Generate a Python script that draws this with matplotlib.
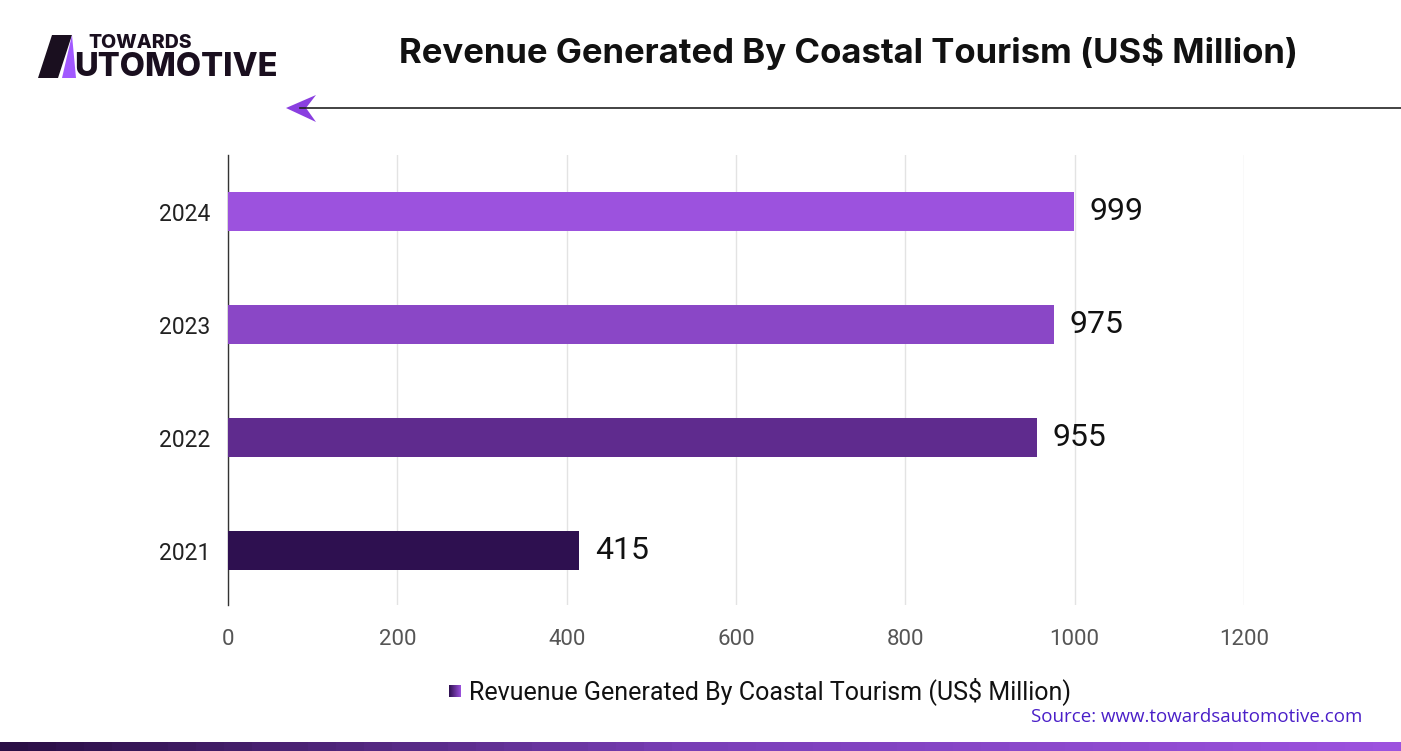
import numpy as np
import matplotlib.pyplot as plt
from matplotlib.colors import LinearSegmentedColormap
from matplotlib.patches import Polygon

years = ["2021", "2022", "2023", "2024"]
revenue = [415, 955, 975, 999]
bar_colors = ["#2e1050", "#5f2b8e", "#8a47c6", "#9c52de"]
x_ticks = [0, 200, 400, 600, 800, 1000, 1200]
title = "Revenue Generated By Coastal Tourism (US$ Million)"
legend_label = "Revuenue Generated By Coastal Tourism (US$ Million)"
source = "Source: www.towardsautomotive.com"

W, H = 1401, 751
fig = plt.figure(figsize=(W / 100, H / 100), dpi=100)
fig.patch.set_facecolor("white")

# main plot area (pixel coords -> figure fractions)
left, right, top, bottom = 228, 1244, 155, 605
ax = fig.add_axes([left / W, 1 - bottom / H, (right - left) / W, (bottom - top) / H])
ypos = np.arange(len(years))
ax.barh(ypos, revenue, height=0.345, color=bar_colors, zorder=3)
for y, v in zip(ypos, revenue):
    ax.text(v + 19, y, str(v), va="center", ha="left", fontsize=23, color="#111111",
            family="Roboto")
ax.set_xlim(0, 1200)
ax.set_ylim(-0.48, 3.5)
ax.set_yticks(ypos)
ax.set_yticklabels(years, fontsize=16.5, color="#222222", family="Roboto")
ax.set_xticks(x_ticks)
ax.set_xticklabels([str(t) for t in x_ticks], fontsize=16, color="#555555", family="Roboto")
ax.tick_params(axis="both", length=0)
ax.tick_params(axis="y", pad=13)
ax.tick_params(axis="x", pad=17)
ax.grid(axis="x", color="#e3e3e3", linewidth=1, zorder=0)
for s in ["top", "right", "bottom"]:
    ax.spines[s].set_visible(False)
ax.spines["left"].set_color("#333333")
ax.spines["left"].set_linewidth(1)

# overlay axes in pixel space for decorations
ov = fig.add_axes([0, 0, 1, 1], zorder=5)
ov.set_xlim(0, W)
ov.set_ylim(H, 0)
ov.axis("off")
ov.patch.set_alpha(0)

ov.text(848, 52, title, ha="center", va="center", fontsize=25, fontweight="bold",
        color="#111111", family="Inter")

# arrow line under the title
ov.plot([300, W], [108, 108], color="#222222", linewidth=1.2)
ov.add_patch(Polygon([[286, 108], [316, 95], [306, 108], [316, 122]], closed=True,
                     facecolor="#8a3fe0", edgecolor="none"))

# logo
ov.add_patch(Polygon([[52, 35], [72, 35], [58, 78], [38, 78]], closed=True,
                     facecolor="#1a0f1f", edgecolor="none"))
ov.add_patch(Polygon([[72, 35], [76, 78], [62, 78]], closed=True,
                     facecolor="#a259ff", edgecolor="none"))
ov.text(88, 43, "TOWARDS", ha="left", va="center", fontsize=14, fontweight="heavy",
        color="#1a0f1f", family="Inter")
ov.text(74, 67, "UTOMOTIVE", ha="left", va="center", fontsize=23.5, fontweight="heavy",
        color="#1a0f1f", family="Inter")

# legend
grad = np.linspace(0, 1, 50).reshape(1, -1)
leg_cmap = LinearSegmentedColormap.from_list("leg", ["#2e1050", "#9c52de"])
ov.imshow(grad, cmap=leg_cmap, extent=[449, 461, 697, 685], aspect="auto", zorder=6)
ov.text(469, 691, legend_label, ha="left", va="center", fontsize=18, color="#111111",
        family="Roboto")

ov.text(1362, 717, source, ha="right", va="center", fontsize=13.5, color="#4a1fc8",
        family="Open Sans")

# gradient strip at the bottom
strip_cmap = LinearSegmentedColormap.from_list("strip", ["#2a0f45", "#7a3fb8", "#9c52de"])
ov.imshow(grad, cmap=strip_cmap, extent=[0, W, H, 742], aspect="auto", zorder=6)
ov.set_xlim(0, W)
ov.set_ylim(H, 0)

fig.savefig("out.png", dpi=100)
plt.close(fig)
